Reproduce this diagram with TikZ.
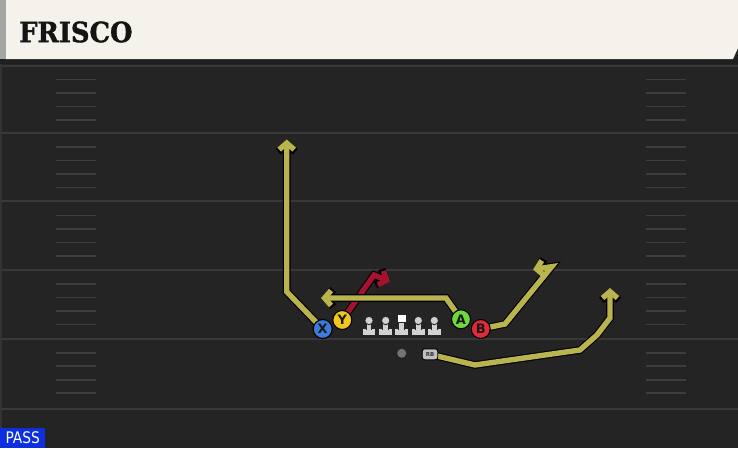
\documentclass[tikz,border=0pt]{standalone}
\usepackage{fontspec}
\usepackage{graphicx}
\usetikzlibrary{arrows.meta}
\newfontfamily\dvsans{DejaVu Sans}
\newfontfamily\dvserif{DejaVu Serif}
\newfontfamily\titlefont[FakeBold=1.2]{DejaVu Serif Bold}
\definecolor{fieldbg}{HTML}{242424}
\definecolor{yardcol}{HTML}{393939}
\definecolor{hashcol}{HTML}{3D3D3D}
\definecolor{cream}{HTML}{F5F2EB}
\definecolor{sidebar}{HTML}{A4A6A4}
\definecolor{routecol}{HTML}{B9B44D}
\definecolor{redroute}{HTML}{A3132F}
\definecolor{xblue}{HTML}{3C7BDA}
\definecolor{yyellow}{HTML}{F2C61C}
\definecolor{agreen}{HTML}{6CD93C}
\definecolor{bred}{HTML}{E02A3C}
\definecolor{passblue}{HTML}{0E2FE0}
\definecolor{linegray}{HTML}{D2D2D2}
\pgfdeclarelayer{field}
\pgfdeclarelayer{routes}
\pgfsetlayers{field,routes,main}
\tikzset{
  yard/.style={draw=yardcol, line width=2pt},
  hash/.style={draw=hashcol, line width=1.6pt},
  route/.style={line width=5.4pt, draw=routecol, line join=miter,
    -{Straight Barb[length=6.5pt,width=15pt,line join=miter,line cap=butt]},
    preaction={draw=black, line width=7.6pt, -{Straight Barb[length=7.3pt,width=17pt,line join=miter,line cap=butt]}}},
  player/.style={circle, minimum size=19pt, inner sep=0pt, draw=black, line width=1.1pt,
    text=black!90, font=\dvsans\bfseries\fontsize{13}{13}\selectfont},
  lm/.style={fill=linegray, draw=black!85, line width=0.9pt},
  pics/lineman/.style={code={
    \draw[lm] (-6.8,8) rectangle (6.8,15);
    \draw[lm] (-2.8,0) rectangle (2.8,8.5);
    \fill[linegray] (-2.3,7) rectangle (2.3,9);
    \draw[lm] (0,0) circle (4.2);
  }},
  pics/center/.style={code={
    \draw[lm] (-6.8,8) rectangle (6.8,15);
    \draw[lm] (-2.8,0) rectangle (2.8,8.5);
    \fill[linegray] (-2.3,7) rectangle (2.3,9);
    \draw[fill=white, draw=black!85, line width=0.9pt] (-4.5,-6.5) rectangle (4.5,2);
  }},
}
\begin{document}
\begin{tikzpicture}[x=1pt,y=-1pt]
\useasboundingbox (0,0) rectangle (738,448);
\begin{pgfonlayer}{field}
  % field
  \fill[fieldbg] (0,0) rectangle (738,448);
  \fill[yardcol!70!fieldbg] (0,59) rectangle (2,448);
  % yard lines
  \foreach \y in {65.5,133,201.3,270,338.7,408.5}
    \draw[yard] (2,\y) -- (738,\y);
  % hash marks
  \foreach \y in {65.5,133,201.3,270,338.7}{
    \foreach \d in {14,27.5,41,54.5}{
      \draw[hash] (56,\y+\d) -- (96,\y+\d);
      \draw[hash] (646,\y+\d) -- (686,\y+\d);
    }
  }
  % header
  \fill[black!88] (0,58) rectangle (738,64);
  \fill[cream] (6,0) -- (738,0) -- (738,48) -- (733,59) -- (6,59) -- cycle;
  \fill[sidebar] (0,0) rectangle (6,59);
\end{pgfonlayer}

\node[anchor=west, inner sep=0pt, text=black!92, font=\titlefont\fontsize{28}{28}\selectfont] (title) at (19,32) {\scalebox{0.92}[1]{FRISCO}};

% players
\node[player, fill=xblue] (X) at (322.7,329) {X};
\node[player, fill=yyellow] (Y) at (342.3,320) {Y};
\node[player, fill=agreen] (A) at (461,319.3) {A};
\node[player, fill=bred] (B) at (480.7,329) {B};
\node[circle, fill=black!55, minimum size=9pt, inner sep=0pt] (QB) at (401.7,353.3) {};
\node[draw=black, line width=0.9pt, fill=black!25, rounded corners=2.5pt, minimum width=15.5pt, minimum height=11pt,
  inner sep=0pt, text=black!80, font=\dvsans\bfseries\fontsize{5.5}{5.5}\selectfont] (RB) at (430,354.3) {RB};

% line
\pic at (369,320.5) {lineman};
\pic at (385.7,320.5) {lineman};
\pic at (401.7,320.5) {center};
\pic at (418.3,320.5) {lineman};
\pic at (434.3,320.5) {lineman};

% routes
\begin{pgfonlayer}{routes}
  \draw[route] (X.center) -- (286.7,291.7) -- (286.7,139.5);
  \draw[route, draw=redroute] (Y.center) -- (374,275) -- (390,281.7);
  \draw[route] (A.center) -- (446,298) -- (321,298);
  \draw[route] (B.center) -- (505,324) -- (551.7,266.7) -- (533,269.5);
  \draw[route] (RB.center) -- (475,365) -- (580,350) -- (597,335) -- (610,318) -- (610,288);
\end{pgfonlayer}

\node[fill=passblue, anchor=south west, minimum width=45pt, minimum height=20pt, inner sep=0pt,
  text=white, font=\dvsans\fontsize{16}{16}\selectfont] (pass) at (0,448) {\scalebox{0.86}[1]{PASS}};
\end{tikzpicture}
\end{document}
